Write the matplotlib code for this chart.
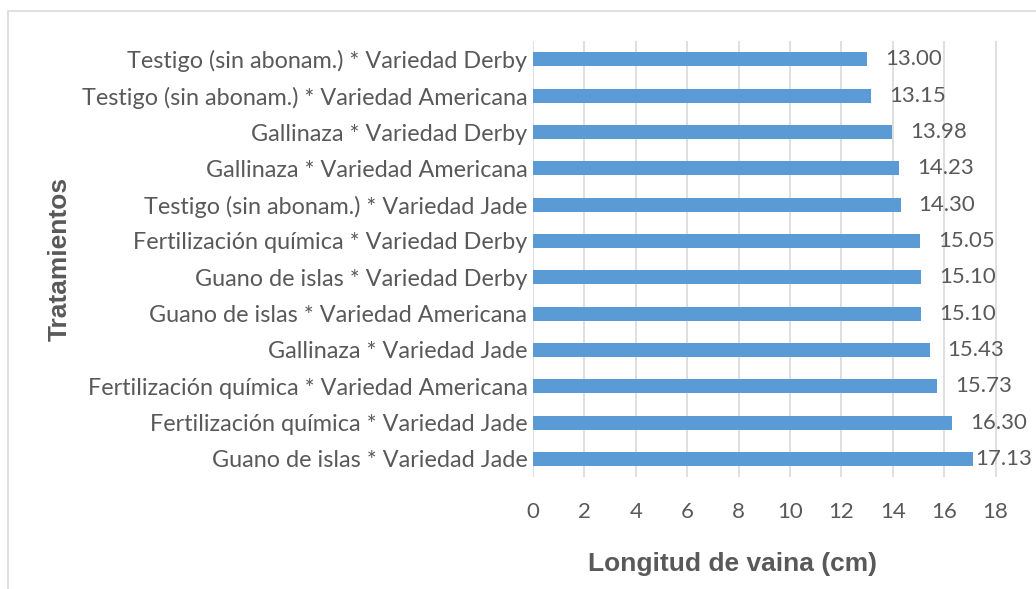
import numpy as np
import matplotlib.pyplot as plt
from matplotlib.patches import Rectangle

# datos (de arriba hacia abajo)
tratamientos = [
    "Testigo (sin abonam.) * Variedad Derby",
    "Testigo (sin abonam.) * Variedad Americana",
    "Gallinaza * Variedad Derby",
    "Gallinaza * Variedad Americana",
    "Testigo (sin abonam.) * Variedad Jade",
    "Fertilización química * Variedad Derby",
    "Guano de islas * Variedad Derby",
    "Guano de islas * Variedad Americana",
    "Gallinaza * Variedad Jade",
    "Fertilización química * Variedad Americana",
    "Fertilización química * Variedad Jade",
    "Guano de islas * Variedad Jade",
]
longitud = [13.00, 13.15, 13.98, 14.23, 14.30, 15.05, 15.10, 15.10, 15.43, 15.73, 16.30, 17.13]
xticks = list(range(0, 20, 2))

gris = "#595959"
azul = "#5B9BD5"

fig = plt.figure(figsize=(10.36, 5.89), dpi=100)
ax = fig.add_axes([0.5145, 0.19, 0.449, 0.74])

# marco de la figura
fig.patches.append(Rectangle((8/1036, -0.1), 1.2, 1 - 11/589 + 0.1, transform=fig.transFigure,
                             fill=False, edgecolor="#D9D9D9", linewidth=1.2))

y = np.arange(len(tratamientos))
ax.barh(y, longitud, height=0.38, color=azul, zorder=3)
ax.set_ylim(len(tratamientos) - 0.5, -0.5)
ax.set_xlim(0, 18.1)
ax.set_xticks(xticks)
ax.set_yticks(y)
ax.set_yticklabels(tratamientos, family="Lato", fontsize=16.8, color=gris)
ax.set_xticklabels([str(t) for t in xticks], family="Lato", fontsize=16, color=gris)
ax.tick_params(length=0)
ax.tick_params(axis="y", pad=4)
ax.tick_params(axis="x", pad=18)
for s in ax.spines.values():
    s.set_visible(False)
ax.grid(axis="x", color="#D9D9D9", linewidth=1.2, zorder=0)

# etiquetas de datos
for yi, v in zip(y, longitud):
    xl = min(v + 0.7, 17.2)
    ax.text(xl, yi, f"{v:.2f}", va="center", ha="left", family="Lato", fontsize=16,
            color=gris, clip_on=False)

fig.text(732/1036, 1 - 564/589, "Longitud de vaina (cm)", ha="center", va="center",
         family="Liberation Sans", fontsize=19, fontweight="bold", color=gris)
fig.text(60/1036, 1 - 259/589, "Tratamientos", rotation=90, ha="center", va="center",
         family="Liberation Sans", fontsize=19, fontweight="bold", color=gris)

fig.savefig("out.png", dpi=100)
